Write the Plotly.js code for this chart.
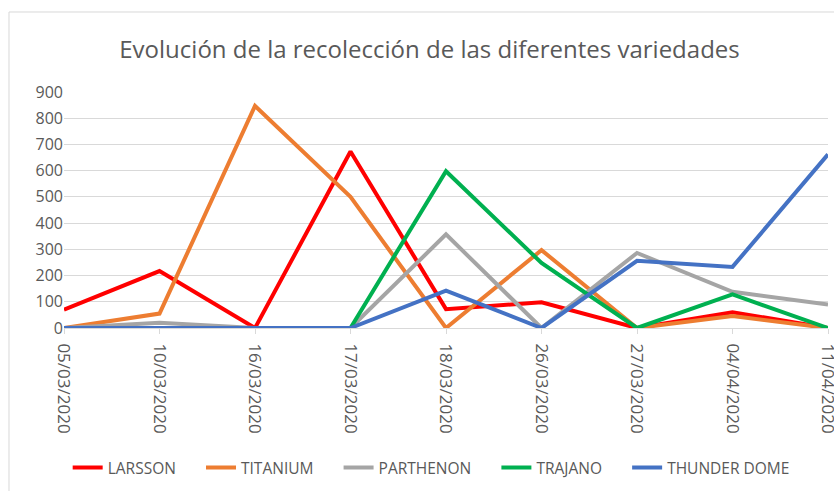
<!DOCTYPE html>
<html><head><meta charset="utf-8">
<script src="https://cdn.plot.ly/plotly-3.0.1.min.js"></script>
<style>html,body{margin:0;padding:0;background:#fff}#chart{width:834px;height:491px}</style>
</head><body><div id="chart"></div>
<script>
const dates = ["05/03/2020","10/03/2020","16/03/2020","17/03/2020","18/03/2020","26/03/2020","27/03/2020","04/04/2020","11/04/2020"];
const seriesNames = ["LARSSON","TITANIUM","PARTHENON","TRAJANO","THUNDER DOME"];
const larsson = [70, 217, 0, 673, 72, 98, 0, 60, 0];
const titanium = [0, 55, 847, 500, 0, 297, 0, 46, 0];
const parthenon = [0, 20, 0, 0, 357, 0, 286, 138, 90];
const trajano = [0, 0, 0, 0, 598, 248, 0, 128, 0];
const thunderDome = [0, 0, 0, 0, 142, 0, 256, 233, 662];
const colors = ["#FF0000","#ED7D31","#A5A5A5","#00B050","#4472C4"];
const values = [larsson, titanium, parthenon, trajano, thunderDome];

const font = "Open Sans, sans-serif";
const pad = "\u00a0\u00a0\u00a0\u00a0\u00a0";
const traces = values.map((v,i)=>({
  x: dates, y: v, name: seriesNames[i] + (i < values.length - 1 ? pad : ""), type: "scatter", mode: "lines",
  line: {color: colors[i], width: 4}, cliponaxis: false
}));
const layout = {
  width: 834, height: 491,
  margin: {l: 64, r: 6, t: 92, b: 163},
  paper_bgcolor: "#fff", plot_bgcolor: "#fff",
  title: {text: "Evolución de la recolección de las diferentes variedades",
    font: {family: font, size: 24, color: "#595959"}, x: 0.515, xanchor: "center", y: 0.9, yanchor: "middle"},
  xaxis: {type: "category", tickangle: 90, range: [0, 8], showgrid: false,
    showline: true, linecolor: "#d9d9d9", linewidth: 1,
    ticks: "outside", ticklen: 5, tickcolor: "#d9d9d9", ticklabelstandoff: 6,
    tickfont: {family: font, size: 17, color: "#595959"}, zeroline: false},
  yaxis: {range: [0, 900], dtick: 100, showgrid: true, gridcolor: "#d9d9d9", gridwidth: 1,
    zeroline: false, showline: false, ticks: "",
    tickfont: {family: font, size: 16, color: "#595959"}},
  legend: {orientation: "h", xref: "container", yref: "container", x: 0.517, xanchor: "center",
    y: 0.047, yanchor: "middle", font: {family: font, size: 15.5, color: "#595959"}, traceorder: "normal"},
  showlegend: true,
  shapes: [{type: "rect", xref: "paper", yref: "paper", x0: -0.072, x1: 1.05, y0: -0.75, y1: 1.339,
    line: {color: "#d9d9d9", width: 1}, layer: "below"}]
};
Plotly.newPlot("chart", traces, layout, {displayModeBar: false, staticPlot: true});
</script></body></html>
